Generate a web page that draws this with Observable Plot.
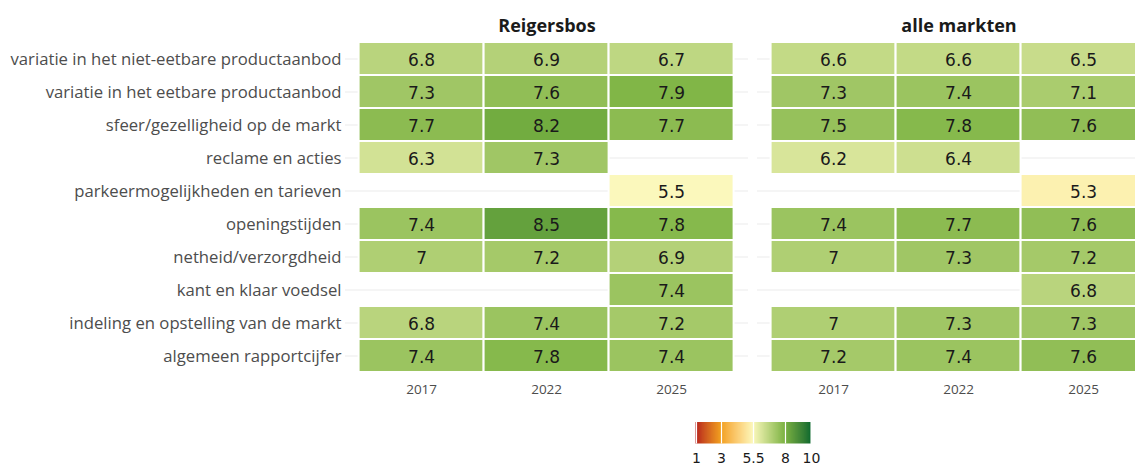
<!DOCTYPE html>
<html><head><meta charset="utf-8">
<script src="https://cdn.jsdelivr.net/npm/d3@7"></script>
<script src="https://cdn.jsdelivr.net/npm/@observablehq/plot@0.6"></script>
<style>
html,body{margin:0;padding:0;background:#fff;overflow:hidden;width:1135px;height:466px;}
#chart{position:absolute;left:0;top:0;width:1162px;}
#chart svg{max-width:none !important;}
#legend{position:absolute;left:687.5px;top:419.7px;}
#legend svg{max-width:none !important;}
</style></head><body>
<div id="chart"></div><div id="legend"></div>
<script>
const items = [
  "variatie in het niet-eetbare productaanbod",
  "variatie in het eetbare productaanbod",
  "sfeer/gezelligheid op de markt",
  "reclame en acties",
  "parkeermogelijkheden en tarieven",
  "openingstijden",
  "netheid/verzorgdheid",
  "kant en klaar voedsel",
  "indeling en opstelling van de markt",
  "algemeen rapportcijfer"
];
const panels = ["Reigersbos", "alle markten"];
const years = ["2017", "2022", "2025"];

const reigersbos2017 = [6.8, 7.3, 7.7, 6.3, null, 7.4, 7, null, 6.8, 7.4];
const reigersbos2022 = [6.9, 7.6, 8.2, 7.3, null, 8.5, 7.2, null, 7.4, 7.8];
const reigersbos2025 = [6.7, 7.9, 7.7, null, 5.5, 7.8, 6.9, 7.4, 7.2, 7.4];
const alle2017 = [6.6, 7.3, 7.5, 6.2, null, 7.4, 7, null, 7, 7.2];
const alle2022 = [6.6, 7.4, 7.8, 6.4, null, 7.7, 7.3, null, 7.3, 7.4];
const alle2025 = [6.5, 7.1, 7.6, null, 5.3, 7.6, 7.2, 6.8, 7.3, 7.6];

const legendTicks = [1, 3, 5.5, 8, 10];
const colorStops = [1, 3, 5.5, 8, 10];
const colorRange = ["#b71c1c", "#f2a11f", "#fbf8bc", "#7cb342", "#0d6b2f"];

const series = [
  ["Reigersbos", "2017", reigersbos2017],
  ["Reigersbos", "2022", reigersbos2022],
  ["Reigersbos", "2025", reigersbos2025],
  ["alle markten", "2017", alle2017],
  ["alle markten", "2022", alle2022],
  ["alle markten", "2025", alle2025]
];
const data = [];
for (const [panel, year, vals] of series) {
  vals.forEach((v, i) => { if (v != null) data.push({panel, year, item: items[i], value: v}); });
}

const ramp = d3.scaleLinear().domain(colorStops).range(colorRange).interpolate(d3.interpolateLab);
const colorScale = {type: "linear", domain: [1, 10], interpolate: t => ramp(1 + 9 * t)};

const W = 1162, H = 405;
const chart = Plot.plot({
  width: W,
  height: H,
  marginLeft: 345.4,
  marginRight: W - 1160.6,
  marginTop: 38.7,
  marginBottom: H - 375.3,
  style: {fontFamily: "'Open Sans', sans-serif", background: "#fff"},
  fx: {domain: panels, paddingInner: 8.8 / 412, paddingOuter: 0},
  x: {domain: years, padding: 0, insetLeft: 12.6, insetRight: 12.6},
  y: {domain: items, padding: 0, insetTop: 3.3, insetBottom: 3.3},
  color: colorScale,
  marks: [
    Plot.gridY({stroke: "#ebebeb", strokeOpacity: 1, strokeWidth: 1.1}),
    Plot.cell(data, {x: "year", y: "item", fx: "panel", fill: "value", stroke: "#fff", strokeWidth: 2}),
    Plot.text(data, {x: "year", y: "item", fx: "panel", text: d => String(d.value), dy: 1.5,
      fontSize: 17, fontFamily: "'DejaVu Sans', sans-serif", fill: "#1a1a1a"}),
    Plot.axisY({tickSize: 0, tickPadding: 4, fontSize: 16.7, label: null, fill: "#4d4d4d", dy: 1,
      fontFamily: "'Open Sans', sans-serif"}),
    Plot.axisX({tickSize: 0, tickPadding: 9, fontSize: 13.5, label: null, fill: "#4d4d4d",
      fontFamily: "'Open Sans', sans-serif"}),
    Plot.axisFx({anchor: "top", tickSize: 0, tickPadding: 7, fontSize: 18, fontWeight: "bold", label: null,
      fill: "#1a1a1a", fontFamily: "'Open Sans', sans-serif"})
  ]
});
document.getElementById("chart").appendChild(chart);

const barH = 21.5;
const leg = Plot.legend({
  color: colorScale,
  width: 130,
  marginLeft: 7.5,
  marginRight: 7.5,
  marginTop: 2,
  marginBottom: 20,
  height: 2 + barH + 20,
  ticks: legendTicks,
  tickSize: 7,
  tickFormat: d => String(d),
  label: null,
  style: {fontSize: "14px", fontFamily: "'DejaVu Sans', sans-serif", color: "#1a1a1a", background: "transparent", overflow: "visible"}
});
document.getElementById("legend").appendChild(leg);
d3.select(leg).selectAll("line").attr("y1", -barH).attr("y2", 0).attr("stroke", "#fff").attr("stroke-width", 1.2);
</script>
</body></html>
